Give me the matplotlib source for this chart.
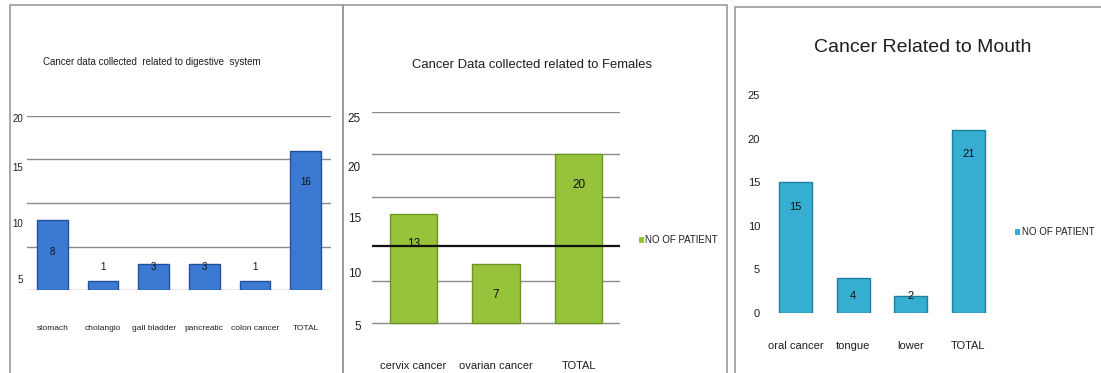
import numpy as np
import matplotlib
matplotlib.use("Agg")
import matplotlib.pyplot as plt
from matplotlib.patches import Rectangle

#-------------------#
# Fonts
#-------------------#
plt.rcParams['font.family'] = ['Liberation Sans Narrow', 'Liberation Sans', 'DejaVu Sans']

#-------------------#
# Data
#-------------------#
dig_labels = ["stomach", "cholangio", "gall bladder", "pancreatic", "colon cancer", "TOTAL"]
dig_values = [8, 1, 3, 3, 1, 16]
dig_title = "Cancer data collected  related to digestive  system"

fem_labels = ["cervix cancer", "ovarian cancer", "TOTAL"]
fem_values = [13, 7, 20]
fem_title = "Cancer Data collected related to Females"

mouth_labels = ["oral cancer", "tongue", "lower", "TOTAL"]
mouth_values = [15, 4, 2, 21]
mouth_title = "Cancer Related to Mouth"

legend_label = "NO OF PATIENT"

# tick labels as printed in the picture (they sit off the grid in panels 1 and 2)
dig_tick_pos = [1.3, 7.7, 14.1, 19.8]
dig_tick_txt = ["5", "10", "15", "20"]
fem_tick_pos = [-0.3, 6.0, 12.5, 18.6, 24.4]
fem_tick_txt = ["5", "10", "15", "20", "25"]
# panel 2: grey grid lines, the one near 10 is drawn as a dark line slightly below
fem_grid = [0, 5, 15, 20, 25]
fem_dark_line = 9.2

#-------------------#
# Figure
#-------------------#
W, H = 1101, 373
fig = plt.figure(figsize=(W / 100, H / 100), dpi=100)
fig.patch.set_facecolor("white")
txt_c = "#1e1e1e"


def px_axes(left, top, right, bottom):
    return fig.add_axes([left / W, 1 - bottom / H, (right - left) / W, (bottom - top) / H])


def frame(left, top, right, bottom):
    fig.patches.append(Rectangle((left / W, 1 - bottom / H), (right - left) / W, (bottom - top) / H,
                                 transform=fig.transFigure, fill=False, edgecolor="#9a9a9a", lw=1.2))


frame(10, 5, 343, 380)
frame(343, 5, 727, 380)
frame(735, 7, 1110, 380)


def bar_panel(ax, labels, values, ymax, grid, color, edge, label_off, label_floor,
              width, fs_lab, fs_y, xpad):
    x = np.arange(len(labels))
    ax.bar(x, values, width=width, color=color, edgecolor=edge, lw=1.0, zorder=3)
    ax.set_xlim(-0.5, len(labels) - 0.5)
    ax.set_ylim(0, ymax)
    for s in ["top", "right", "left", "bottom"]:
        ax.spines[s].set_visible(False)
    ax.set_yticks(grid, minor=True)
    ax.grid(True, which="minor", axis="y", color="#8a8a8a", lw=1.0, zorder=0)
    ax.tick_params(axis="y", which="minor", length=0)
    ax.set_xticks(x)
    ax.set_xticklabels(labels, fontsize=fs_lab, color=txt_c)
    ax.tick_params(axis="x", length=0, pad=xpad)
    ax.tick_params(axis="y", length=0, labelsize=fs_y, labelcolor=txt_c)
    for i, v in zip(x, values):
        ax.text(i, max(v - label_off, label_floor), str(v), ha="center", va="center",
                fontsize=fs_y, color="#111111", zorder=4)
    return ax


# Panel 1 : digestive system
ax1 = px_axes(27, 116, 331, 290)
bar_panel(ax1, dig_labels, dig_values, 20, np.arange(0, 21, 5), "#3b79d2", "#24519a",
          3.6, 2.6, 0.6, 6, 7, 25)
ax1.set_yticks(dig_tick_pos)
ax1.set_yticklabels(dig_tick_txt)
ax1.tick_params(axis="y", pad=3)
fig.text(152 / W, 1 - 62 / H, dig_title, ha="center", va="center", fontsize=7, color=txt_c)

# Panel 2 : females
ax2 = px_axes(372, 112, 620, 326)
bar_panel(ax2, fem_labels, fem_values, 25, fem_grid, "#96c23c", "#6f9426",
          3.6, 2.0, 0.57, 8, 8.5, 25)
ax2.set_yticks(fem_tick_pos)
ax2.set_yticklabels(fem_tick_txt)
ax2.tick_params(axis="y", pad=8)
ax2.axhline(fem_dark_line, color="#111111", lw=1.6, zorder=3.5)
fig.text(532 / W, 1 - 65 / H, fem_title, ha="center", va="center", fontsize=9.4, color=txt_c)
ax2.bar([0], [0], color="#96c23c", label=legend_label)
leg2 = ax2.legend(loc="center left", bbox_to_anchor=(1.04, 0.4), frameon=False, fontsize=7,
                  handlelength=0.5, handleheight=0.6, handletextpad=0.2, labelcolor=txt_c)

# Panel 3 : mouth
ax3 = px_axes(767, 95, 997, 313)
bar_panel(ax3, mouth_labels, mouth_values, 25, np.arange(0, 26, 5), "#36aed2", "#1f7f9c",
          2.8, 2.0, 0.57, 8, 8, 20)
ax3.set_yticks(np.arange(0, 26, 5))
ax3.tick_params(axis="y", pad=5)
fig.text(923 / W, 1 - 48 / H, mouth_title, ha="center", va="center", fontsize=14, color=txt_c)
ax3.bar([0], [0], color="#36aed2", label=legend_label)
leg3 = ax3.legend(loc="center left", bbox_to_anchor=(1.04, 0.37), frameon=False, fontsize=7,
                  handlelength=0.5, handleheight=0.6, handletextpad=0.2, labelcolor=txt_c)

fig.savefig("out.png", dpi=100)
